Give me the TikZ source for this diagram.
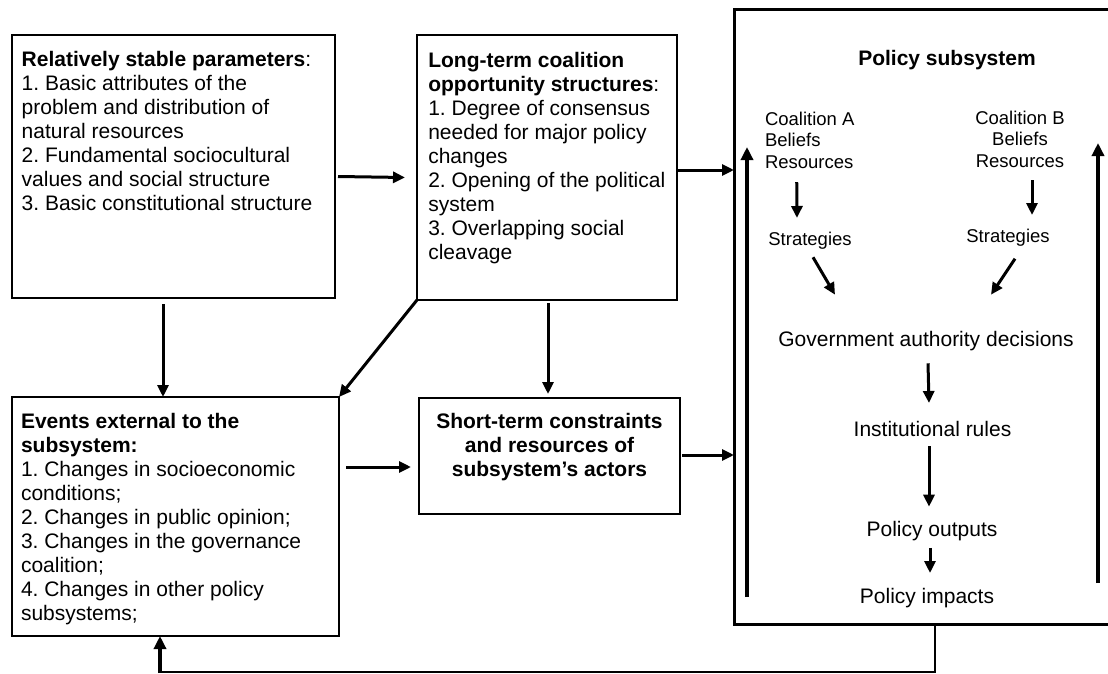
\documentclass[tikz,border=0pt]{standalone}
\usepackage{fontspec}
\setmainfont{Liberation Sans}
\usetikzlibrary{arrows.meta}
\begin{document}
\frenchspacing
\begin{tikzpicture}[x=1pt,y=-1pt,
 box/.style={draw, line width=1.8pt, inner sep=0, outer sep=0},
 frame/.style={inner sep=0, outer sep=0},
 bigline/.style={line width=3pt, line join=miter},
 txt/.style={inner sep=0, outer sep=0, align=left, font=\fontsize{21}{24}\selectfont},
 ctxt/.style={inner sep=0, outer sep=0, align=center, font=\fontsize{21}{24}\selectfont},
 btxt/.style={inner sep=0, outer sep=0, align=center, font=\fontsize{21}{24}\selectfont\bfseries},
 small/.style={inner sep=0, outer sep=0, font=\fontsize{18.5}{21.5}\selectfont},
 arr/.style={line width=3pt, -{Triangle[length=12pt,width=11pt]}},
 farr/.style={line width=3.5pt, -{Triangle[length=13pt,width=12pt]}},
 link/.style={line width=2pt},
]
\useasboundingbox (0,0) rectangle (1108,674);
\clip (0,0) rectangle (1108,674);
\fill[white] (0,0) rectangle (1108,674);

% boxes
\node[box, minimum width=323, minimum height=263] (rsp) at (173.5,166.5) {};
\node[box, minimum width=260, minimum height=265] (lt) at (547,167.5) {};
\node[box, minimum width=327, minimum height=239] (ev) at (175.5,516.5) {};
\node[box, minimum width=261, minimum height=116] (st) at (549.5,456) {};
\node[frame, minimum width=401, minimum height=614] (ps) at (934.5,317) {};
\draw[bigline] (ps.north east) -- (ps.north west) -- (ps.south west) -- (ps.south east);

% box texts
\node[txt, anchor=north west] (rspt) at (21.7,51) {\textbf{Relatively stable parameters}:\\
1. Basic attributes of the\\
problem and distribution of\\
natural resources\\
2. Fundamental sociocultural\\
values and social structure\\
3. Basic constitutional structure};
\node[txt, anchor=north west] (ltt) at (428.3,52) {\textbf{Long-term coalition}\\
\textbf{opportunity structures}:\\
1. Degree of consensus\\
needed for major policy\\
changes\\
2. Opening of the political\\
system\\
3. Overlapping social\\
cleavage};
\node[txt, anchor=north west] (evt) at (21,413) {\textbf{Events external to the}\\
\textbf{subsystem:}\\
1. Changes in socioeconomic\\
conditions;\\
2. Changes in public opinion;\\
3. Changes in the governance\\
coalition;\\
4. Changes in other policy\\
subsystems;};
\node[btxt, anchor=north] (stt) at (549.5,413) {Short-term constraints\\and resources of\\subsystem’s actors};

% policy subsystem contents
\node[btxt, anchor=north] (pst) at (947,50) {Policy subsystem};
\node[small, align=left, anchor=north west] (ca) at (765,112) {Coalition A\\Beliefs\\Resources};
\node[small, align=center, anchor=north] (cb) at (1020,111) {Coalition B\\Beliefs\\Resources};
\node[small, anchor=north] (sa) at (810,232) {Strategies};
\node[small, anchor=north] (sb) at (1008,229.5) {Strategies};
\node[ctxt, anchor=north] (gov) at (926,331.7) {Government authority decisions};
\node[ctxt, anchor=north] (inst) at (932.5,421) {Institutional rules};
\node[ctxt, anchor=north] (out) at (932,521.7) {Policy outputs};
\node[ctxt, anchor=north] (imp) at (927,588) {Policy impacts};

% outer connectors
\draw[arr] ([shift={(3,10)}]rsp.east) -- ([shift={(-12,10)}]lt.west);
\draw[arr] ([shift={(1,2.5)}]lt.east) -- ([shift={(0,-147)}]ps.west);
\draw[arr] ([shift={(-10.5,6)}]rsp.south) -- ([shift={(-12.5,0)}]ev.north);
\draw[arr] (lt.south west) -- (ev.north east);
\draw[arr] ([shift={(1,3)}]lt.south) -- ([shift={(-1.5,-4)}]st.north);
\draw[arr] ([shift={(7,-49.5)}]ev.east) -- ([shift={(-8,11)}]st.west);
\draw[arr] ([shift={(2,-1)}]st.east) -- ([shift={(0,138)}]ps.west);
\draw[link] ([xshift=0.5]ps.south) |- ([shift={(-15.5,36)}]ev.south);
\draw[farr] ([shift={(-15.5,37)}]ev.south) -- ([xshift=-15.5]ev.south);

% inner connectors
\draw[arr] ([shift={(-13,13.5)}]ca.south) -- ([shift={(-13,-14)}]sa.north);
\draw[arr] ([shift={(12,12.7)}]cb.south) -- ([shift={(24,-14.5)}]sb.north);
\draw[arr] ([shift={(3,8)}]sa.south) -- ([shift={(-91,-37)}]gov.north);
\draw[arr] ([shift={(7,12)}]sb.south) -- ([shift={(65,-37)}]gov.north);
\draw[farr] ([shift={(13,-27)}]ps.south west) -- ([shift={(13,137)}]ps.north west);
\draw[farr] ([shift={(-37,-41)}]ps.south east) -- ([shift={(-37,133)}]ps.north east);
\draw[arr] ([shift={(2,12)}]gov.south) -- ([shift={(-3.5,-18)}]inst.north);
\draw[arr] ([shift={(-3.5,10)}]inst.south) -- ([shift={(-3,-15)}]out.north);
\draw[arr] ([shift={(-2,6.6)}]out.south) -- ([shift={(3,-15)}]imp.north);
\end{tikzpicture}
\end{document}
